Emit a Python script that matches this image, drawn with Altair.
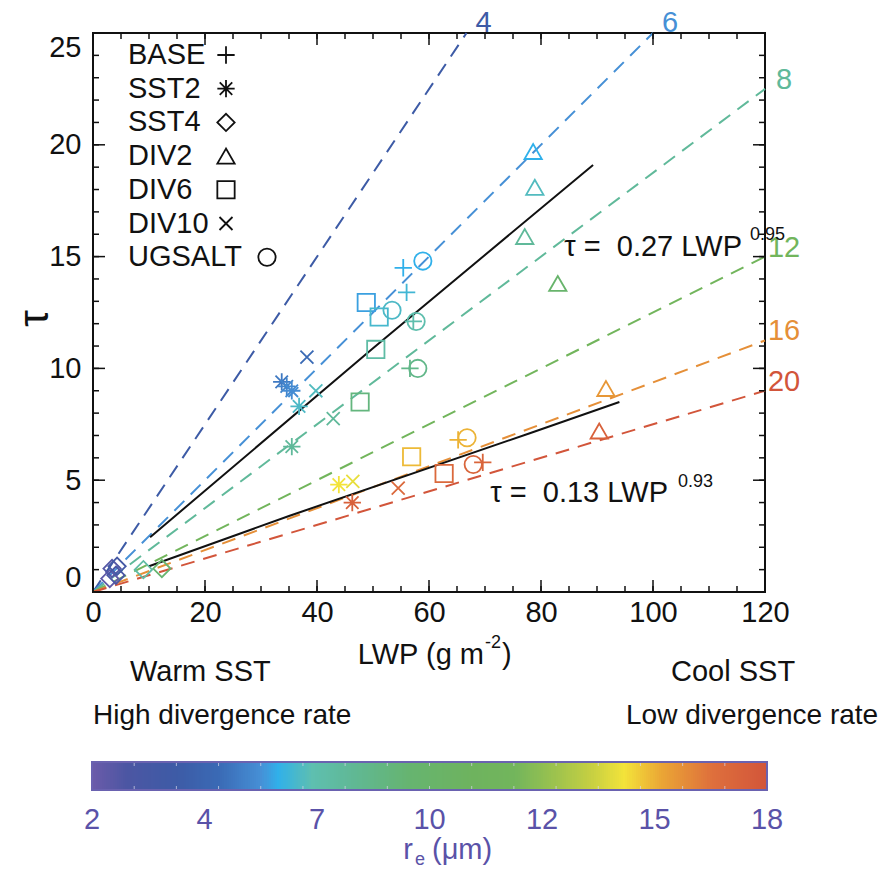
import altair as alt
import pandas as pd

FONT = "Liberation Sans"
INK = "#111111"
PURPLE = "#5a52a8"
W, H = 672, 559
NB = "\u00a0"

cases = ["BASE", "SST2", "SST4", "DIV2", "DIV6", "DIV10", "UGSALT"]

base_lwp = [55.4, 56.0, 57.2, 56.6, 65.2, 69.6]
base_tau = [14.5, 13.4, 12.1, 10.0, 6.8, 5.8]
base_re = [6.4, 6.7, 7.3, 8.6, 15.3, 17.2]

sst2_lwp = [33.7, 34.6, 35.5, 36.8, 35.5, 43.9, 46.3]
sst2_tau = [9.4, 9.2, 9.0, 8.3, 6.5, 4.8, 4.0]
sst2_re = [5.4, 5.7, 5.9, 6.9, 8.0, 14.6, 17.4]

sst4_lwp = [3.0, 3.4, 4.1, 4.3, 9.0, 12.3]
sst4_tau = [0.6, 1.05, 0.75, 1.15, 1.0, 1.05]
sst4_re = [2.3, 2.6, 3.0, 3.4, 7.6, 9.6]

div2_lwp = [78.6, 78.9, 77.1, 83.0, 91.6, 90.4]
div2_tau = [19.7, 18.1, 15.9, 13.8, 9.1, 7.2]
div2_re = [6.4, 7.0, 8.0, 9.8, 15.8, 17.4]

div6_lwp = [48.8, 51.1, 50.5, 47.7, 56.9, 62.7]
div6_tau = [12.95, 12.3, 10.85, 8.5, 6.05, 5.3]
div6_re = [6.2, 6.8, 7.6, 9.0, 15.2, 17.0]

div10_lwp = [38.2, 39.8, 42.9, 46.4, 54.5]
div10_tau = [10.5, 9.0, 7.75, 4.95, 4.65]
div10_re = [5.0, 7.0, 8.0, 14.4, 17.0]

ugsalt_lwp = [58.9, 53.4, 57.7, 58.0, 66.8, 67.9]
ugsalt_tau = [14.8, 12.6, 12.1, 10.0, 6.9, 5.7]
ugsalt_re = [6.4, 6.9, 7.3, 8.6, 15.3, 17.2]

# colour bar (r_e in micron -> colour)
re_stops = [2.0, 2.8, 4.0, 5.0, 6.0, 6.4, 7.2, 8.2, 9.5, 11.0, 12.0, 12.8, 13.8, 14.6, 15.5, 16.7, 18.0]
re_colors = ["#6b5ba9", "#4c56a3", "#3d5ba6", "#3a6ab5", "#4690d6", "#30b0ea", "#5ebfb0",
             "#60b894", "#66b470", "#6eb35e", "#72b55c", "#95c050", "#c5cf42", "#f3e33a",
             "#eaa535", "#de6f3c", "#d2553a"]
cbar_values = [2, 14 / 3, 22 / 3, 10, 38 / 3, 46 / 3, 18]
cbar_minor = list(range(3, 18))
cbar_samples = [round(2 + 0.05 * i, 2) for i in range(320)]

# constant r_e lines (end points)
iso_re = [4, 6, 8, 12, 16, 20]
iso_end_lwp = [66.7, 100, 120, 120, 120, 120]
iso_end_tau = [25, 25, 22.5, 15, 11.25, 9]

# fitted power laws
fit_hi_lwp = [10.2, 50.0, 89.3]
fit_hi_tau = [2.45, 10.9, 19.1]
fit_lo_lwp = [10.0, 35.0, 78.0, 94.0]
fit_lo_tau = [1.15, 3.4, 7.1, 8.5]

x_major = [0, 20, 40, 60, 80, 100, 120]
x_minor = list(range(0, 121, 5))
y_major = [0, 5, 10, 15, 20, 25]
y_minor = list(range(0, 26))

PLUS = "M-1,0H1M0,-1V1"
AST = "M-1,0H1M0,-1V1M-0.72,-0.72L0.72,0.72M-0.72,0.72L0.72,-0.72"
XMARK = "M-0.75,-0.75L0.75,0.75M-0.75,0.75L0.75,-0.75"
shape_list = [PLUS, AST, "diamond", "triangle-up", "square", XMARK, "circle"]

# ---------------------------------------------------------------- tables
series = [
    ("BASE", base_lwp, base_tau, base_re),
    ("SST2", sst2_lwp, sst2_tau, sst2_re),
    ("SST4", sst4_lwp, sst4_tau, sst4_re),
    ("DIV2", div2_lwp, div2_tau, div2_re),
    ("DIV6", div6_lwp, div6_tau, div6_re),
    ("DIV10", div10_lwp, div10_tau, div10_re),
    ("UGSALT", ugsalt_lwp, ugsalt_tau, ugsalt_re),
]
rows = []
for name, lw, ta, rr in series:
    for a, b, c in zip(lw, ta, rr):
        rows.append({"case": name, "lwp": a, "tau": b, "re": c})
pts = pd.DataFrame(rows)

iso_rows = []
for r, el, et in zip(iso_re, iso_end_lwp, iso_end_tau):
    iso_rows.append({"re": r, "lwp": 0.0, "tau": 0.0})
    iso_rows.append({"re": r, "lwp": el, "tau": et})
iso = pd.DataFrame(iso_rows)
iso_end = pd.DataFrame({"re": iso_re, "lwp": iso_end_lwp, "tau": iso_end_tau})

fit_rows = [{"fit": "hi", "lwp": a, "tau": b} for a, b in zip(fit_hi_lwp, fit_hi_tau)]
fit_rows += [{"fit": "lo", "lwp": a, "tau": b} for a, b in zip(fit_lo_lwp, fit_lo_tau)]
fits = pd.DataFrame(fit_rows)

# ---------------------------------------------------------------- scales
xs = alt.Scale(domain=[0, 120], nice=False, zero=False)
ys = alt.Scale(domain=[0, 25], nice=False, zero=False)


def cscale():
    return alt.Scale(domain=re_stops, range=re_colors, clamp=True, interpolate="rgb")


ss = alt.Scale(domain=cases, range=shape_list)

x_axis = alt.Axis(values=x_major, format="d", title=None, labelPadding=6, labelFlush=False)
y_axis = alt.Axis(values=y_major, format="d", title="τ", labelPadding=12, labelFlush=True,
                  titleFontSize=42, titleFont=FONT, titleFontWeight="normal", titleColor=INK,
                  titleX=-59, titleY=285, titleAngle=-90, titleAlign="center",
                  titleBaseline="middle")
X = alt.X("lwp:Q", scale=xs, axis=x_axis)
Y = alt.Y("tau:Q", scale=ys, axis=y_axis)

# ---------------------------------------------------------------- layers
iso_lines = alt.Chart(iso).mark_line(strokeDash=[14, 9], strokeWidth=2).encode(
    x=X, y=Y, stroke=alt.Stroke("re:Q", scale=cscale(), legend=None),
    detail="re:N", order="lwp:Q")

iso_top = alt.Chart(iso_end).transform_filter("datum.tau >= 25").mark_text(
    font=FONT, fontSize=29, align="center", baseline="middle", dx=17, dy=-10).encode(
    x=X, y=Y, text=alt.Text("re:Q", format="d"),
    fill=alt.Fill("re:Q", scale=cscale(), legend=None))

iso_right = alt.Chart(iso_end).transform_filter("datum.tau < 25").mark_text(
    font=FONT, fontSize=29, align="center", baseline="middle", dx=19, dy=-9).encode(
    x=X, y=Y, text=alt.Text("re:Q", format="d"),
    fill=alt.Fill("re:Q", scale=cscale(), legend=None))

fit_lines = alt.Chart(fits).mark_line(color=INK, strokeWidth=2).encode(
    x=X, y=Y, detail="fit:N", order="lwp:Q")

points = alt.Chart(pts).mark_point(filled=False, size=300, strokeWidth=1.8, opacity=1).encode(
    x=X, y=Y, color=alt.Color("re:Q", scale=cscale(), legend=None),
    shape=alt.Shape("case:N", scale=ss, legend=None))


def xticks(vals, length, top):
    df = pd.DataFrame({"lwp": vals})
    if top:
        yy, yy2 = alt.value(0), alt.value(length)
    else:
        yy, yy2 = alt.value(H), alt.value(H - length)
    return alt.Chart(df).mark_rule(color=INK, strokeWidth=1.5).encode(x=X, y=yy, y2=yy2)


def yticks(vals, length, right):
    df = pd.DataFrame({"tau": vals})
    if right:
        xx, xx2 = alt.value(W), alt.value(W - length)
    else:
        xx, xx2 = alt.value(0), alt.value(length)
    return alt.Chart(df).mark_rule(color=INK, strokeWidth=1.5).encode(y=Y, x=xx, x2=xx2)


ticks = [xticks(x_minor, 6, False), xticks(x_major, 12, False),
         xticks(x_minor, 6, True), xticks(x_major, 12, True),
         yticks(y_minor, 6, False), yticks(y_major, 12, False),
         yticks(y_minor, 6, True), yticks(y_major, 12, True)]

# ---------------------------------------------------------------- colour bar
CB_X0, CB_LEN, CB_Y0, CB_Y1 = -1, 675, 729, 757
PX = f"{CB_X0} + (datum.re - 2) / 16 * {CB_LEN}"
cb_fill = alt.Chart(pd.DataFrame({"re": cbar_samples})).transform_calculate(
    px=f"floor({PX})",
    px2=f"min({CB_X0 + CB_LEN}, ceil({CB_X0} + (datum.re + 0.05 - 2) / 16 * {CB_LEN}) + 2)"
).mark_rect(strokeWidth=0).encode(
    x=alt.X("px:Q", scale=None), x2="px2:Q",
    y=alt.value(CB_Y0), y2=alt.value(CB_Y1),
    fill=alt.Fill("re:Q", scale=cscale(), legend=None),
    order=alt.Order("re:Q"))
cb_frame = alt.Chart(pd.DataFrame({"k": [0]})).mark_rect(
    fill=None, stroke="#6a62b0", strokeWidth=2).encode(
    x=alt.value(CB_X0), x2=alt.value(CB_X0 + CB_LEN), y=alt.value(CB_Y0), y2=alt.value(CB_Y1))
cb_tick_df = pd.DataFrame({"re": cbar_minor})
cb_ticks_top = alt.Chart(cb_tick_df).transform_calculate(px=PX).mark_rule(
    color="#d8d8e8", strokeWidth=1, opacity=0.7).encode(
    x=alt.X("px:Q", scale=None), y=alt.value(CB_Y0), y2=alt.value(CB_Y0 + 4))
cb_ticks_bot = alt.Chart(cb_tick_df).transform_calculate(px=PX).mark_rule(
    color="#d8d8e8", strokeWidth=1, opacity=0.7).encode(
    x=alt.X("px:Q", scale=None), y=alt.value(CB_Y1 - 4), y2=alt.value(CB_Y1))
cb_labels = alt.Chart(pd.DataFrame({"re": cbar_values})).transform_calculate(
    px=PX, lab="floor(datum.re)").mark_text(
    font=FONT, fontSize=29, align="center", baseline="middle", color=PURPLE).encode(
    x=alt.X("px:Q", scale=None), y=alt.value(787), text="lab:N")


def label(text, x, y, size=28, align="left", color=INK):
    return alt.Chart(pd.DataFrame({"t": [text]})).mark_text(
        font=FONT, fontSize=size, align=align, baseline="middle", color=color).encode(
        text="t:N", x=alt.value(x), y=alt.value(y))


texts = [
    label("τ =" + NB * 2 + "0.27 LWP", 649, 214, size=29, align="right"),
    label("0.95", 657, 202, size=18),
    label("τ =" + NB * 2 + "0.13 LWP", 575, 460, size=29, align="right"),
    label("0.93", 585, 449, size=18),
    label("LWP (g m", 391, 622, size=29, align="right"),
    label("-2", 392, 610, size=18),
    label(")", 409, 622, size=29),
    label("Warm SST", 37, 639, size=29),
    label("High divergence rate", 0, 683),
    label("Cool SST", 578, 639, size=29),
    label("Low divergence rate", 533, 683),
    label("r", 320, 817, size=29, align="right", color=PURPLE),
    label("e", 322, 827, size=18, color=PURPLE),
    label("(μm)", 339, 817, size=29, color=PURPLE),
]

leg_df = pd.DataFrame({"case": cases, "idx": list(range(len(cases)))})
leg_base = alt.Chart(leg_df).transform_calculate(
    py="22 + datum.idx * 33.7", px="datum.case == 'UGSALT' ? 174 : 133")
leg_text = leg_base.mark_text(font=FONT, fontSize=29, align="left", baseline="middle",
                              color=INK).encode(
    x=alt.value(35), y=alt.Y("py:Q", scale=None), text="case:N")
leg_sym = leg_base.mark_point(filled=False, size=300, strokeWidth=1.8, color=INK,
                              opacity=1).encode(
    x=alt.X("px:Q", scale=None), y=alt.Y("py:Q", scale=None),
    shape=alt.Shape("case:N", scale=ss, legend=None))

chart = alt.layer(iso_lines, fit_lines, points, iso_top, iso_right, *ticks,
                  cb_fill, cb_ticks_top, cb_ticks_bot, cb_frame, cb_labels, *texts,
                  leg_text, leg_sym).properties(
    width=W, height=H,
    padding={"left": 93, "top": 33, "right": 115, "bottom": 277},
    autosize=alt.AutoSizeParams(type="none"),
    background="white",
).configure_view(stroke=INK, strokeWidth=2).configure_axis(
    grid=False, domain=False, ticks=False, labelFont=FONT, labelFontSize=29, labelColor=INK)

chart.save("out.html", embed_options={"renderer": "svg", "actions": False})
